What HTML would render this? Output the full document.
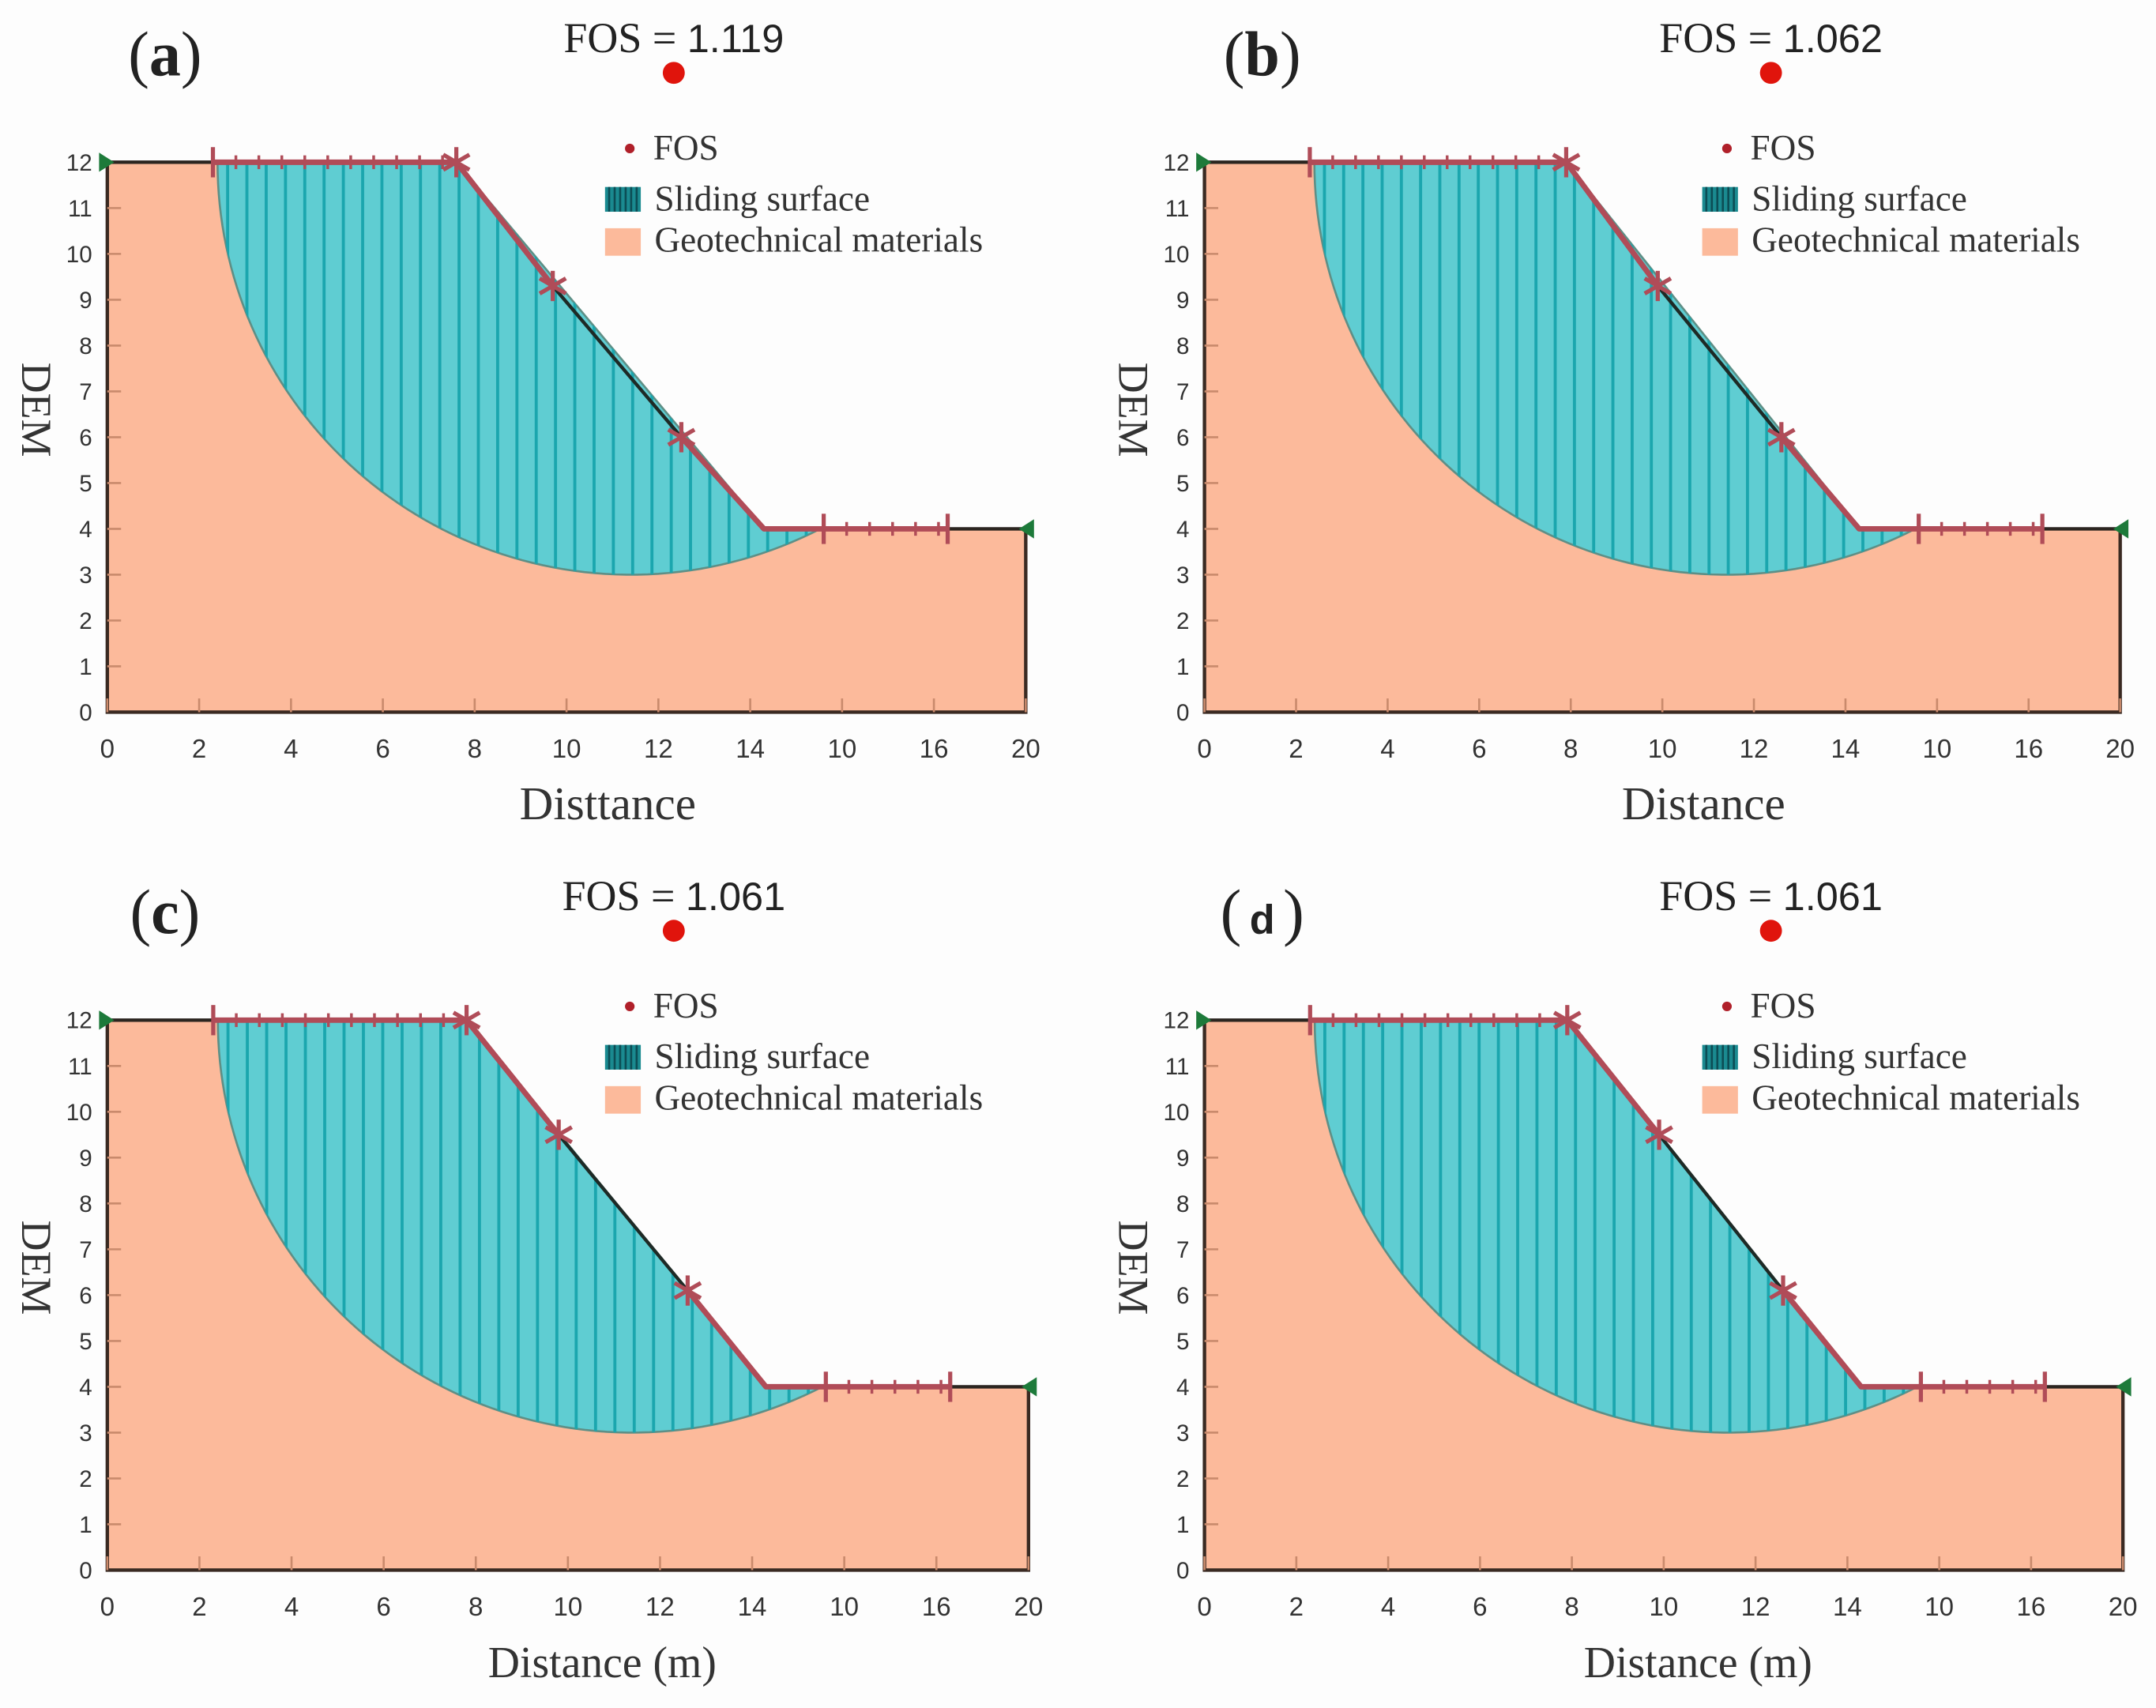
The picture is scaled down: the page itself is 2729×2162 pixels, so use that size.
<!DOCTYPE html>
<html><head><meta charset="utf-8"><style>
html,body{margin:0;padding:0;background:#fdfdfd;}
svg{display:block;}
</style></head><body>
<svg id="fig" width="2729" height="2162" viewBox="0 0 1568 1242.3" xmlns="http://www.w3.org/2000/svg" font-family="Liberation Serif, serif"></svg>
<script>
const panelLabels=['a','b','c','d'];
const fosValues=['1.119','1.062','1.061','1.061'];
const xAxisTitles=['Disttance','Distance','Distance (m)','Distance (m)'];
const slopeTopX=[7.6,7.9,7.8,7.9];
const star1X=[9.7,9.9,9.8,9.9];
const star1Y=[9.3,9.3,9.5,9.5];
const star2X=[12.5,12.6,12.6,12.6];
const star2Y=[6.0,6.0,6.1,6.1];
const xTickVals=[0,2,4,6,8,10,12,14,16,18,20];
const xTickLabels=['0','2','4','6','8','10','12','14','10','16','20'];
const yTickVals=[0,1,2,3,4,5,6,7,8,9,10,11,12];
const slopeToeX=14.3, crestY=12, toeY=4;
const circleCX=11.4, circleCY=12, circleR=9;
const NS='http://www.w3.org/2000/svg';
const svg=document.getElementById('fig');
const SANS='font-family:"Liberation Sans",sans-serif';
function mk(tag,attrs,parent){const e=document.createElementNS(NS,tag);for(const k in attrs)e.setAttribute(k,attrs[k]);(parent||svg).appendChild(e);return e;}
const frames=[{x0:78,x20:746,y0:518,y12:118},{x0:876,x20:1542,y0:518,y12:118},{x0:78,x20:748,y0:1142,y12:742},{x0:876,x20:1544,y0:1142,y12:742}];
frames.forEach((f,i)=>{
  const X=v=>f.x0+(f.x20-f.x0)*v/20;
  const Y=v=>f.y0-(f.y0-f.y12)*v/12;
  const g=mk('g',{});
  
  
  const top=slopeTopX[i];
  const ground=mk('polygon',{points:[[0,0],[0,crestY],[top,crestY],[slopeToeX,toeY],[20,toeY],[20,0]].map(p=>X(p[0])+','+Y(p[1])).join(' '),fill:'#fcba9b',stroke:'none'},g);
  
  
  const arc=[];
  const a0=Math.PI, a1=Math.PI*2-Math.asin((circleCY-toeY)/circleR);
  for(let k=0;k<=80;k++){const a=a0+(a1-a0)*k/80;arc.push([circleCX+circleR*Math.cos(a),circleCY+circleR*Math.sin(a)]);}
  const exitX=arc[arc.length-1][0];
  const slidePts=[[arc[0][0],crestY],[top,crestY],[slopeToeX,toeY],[exitX,toeY]].concat(arc.slice().reverse());
  const clipId='clip'+i;
  const cp=mk('clipPath',{id:clipId},g);
  mk('polygon',{points:slidePts.map(p=>X(p[0])+','+Y(p[1])).join(' ')},cp);
  const slide=mk('polygon',{points:slidePts.map(p=>X(p[0])+','+Y(p[1])).join(' '),fill:'#5fcdd2',stroke:'#5e8f86','stroke-width':1.5},g);
  
  
  const hg=mk('g',{'clip-path':'url(#'+clipId+')'},g);
  for(let x=2.2;x<16;x+=0.42){mk('line',{x1:X(x),x2:X(x),y1:Y(12.2),y2:Y(2.8),stroke:'#1ba6ae','stroke-width':2.2},hg);}
  const ax=mk('path',{d:`M${X(0)},${Y(crestY)} L${X(0)},${Y(0)} L${X(20)},${Y(0)} L${X(20)},${Y(toeY)}`,fill:'none',stroke:'#3a2a22','stroke-width':2.5},g);
  
  
  xTickVals.forEach((v,j)=>{
    mk('line',{x1:X(v),x2:X(v),y1:Y(0),y2:Y(0)-10,stroke:'#c98a6c','stroke-width':1.5},g);
    const t=mk('text',{x:X(v),y:Y(0)+33,'text-anchor':'middle','font-size':19,fill:'#333',style:SANS},g);
    t.textContent=xTickLabels[j];
    
    
  });
  yTickVals.forEach(v=>{
    if(v>0&&v<12)mk('line',{x1:X(0),x2:X(0)+10,y1:Y(v),y2:Y(v),stroke:'#c98a6c','stroke-width':1.5},g);
    const t=mk('text',{x:X(0)-11,y:Y(v)+6,'text-anchor':'end','font-size':17,fill:'#333',style:SANS},g);
    t.textContent=v;
    
    
  });
  mk('line',{x1:X(0),y1:Y(crestY),x2:X(2.3),y2:Y(crestY),stroke:'#2b2520','stroke-width':2.5},g);
  mk('line',{x1:X(star1X[i]),y1:Y(star1Y[i]),x2:X(star2X[i]),y2:Y(star2Y[i]),stroke:'#1e2a26','stroke-width':2.5},g);
  mk('line',{x1:X(18.3),y1:Y(toeY),x2:X(20),y2:Y(toeY),stroke:'#2b2520','stroke-width':2.5},g);
  const red='#b04c58';
  const rl=mk('path',{d:`M${X(2.3)},${Y(crestY)} L${X(top)},${Y(crestY)} L${X(star1X[i])},${Y(star1Y[i])} M${X(star2X[i])},${Y(star2Y[i])} L${X(slopeToeX)},${Y(toeY)} L${X(18.3)},${Y(toeY)}`,fill:'none',stroke:red,'stroke-width':4,'stroke-linejoin':'round'},g);
  
  
  for(let x=2.8;x<top-0.2;x+=0.5)mk('line',{x1:X(x),x2:X(x),y1:Y(crestY)-5,y2:Y(crestY)+5,stroke:red,'stroke-width':2},g);
  for(let x=16.1;x<18.2;x+=0.5)mk('line',{x1:X(x),x2:X(x),y1:Y(toeY)-5,y2:Y(toeY)+5,stroke:red,'stroke-width':2},g);
  [[2.3,crestY],[15.6,toeY],[18.3,toeY]].forEach(p=>mk('line',{x1:X(p[0]),x2:X(p[0]),y1:Y(p[1])-11,y2:Y(p[1])+11,stroke:red,'stroke-width':3},g));
  [[top,crestY],[star1X[i],star1Y[i]],[star2X[i],star2Y[i]]].forEach(p=>{
    const sg=mk('g',{},g);
    
    
    for(let k=0;k<3;k++){const a=k*Math.PI/3+Math.PI/2;mk('line',{x1:X(p[0])-11*Math.cos(a),y1:Y(p[1])-11*Math.sin(a),x2:X(p[0])+11*Math.cos(a),y2:Y(p[1])+11*Math.sin(a),stroke:red,'stroke-width':3},sg);}
  });
  mk('polygon',{points:`${X(0)-6},${Y(crestY)-7} ${X(0)-6},${Y(crestY)+7} ${X(0)+5},${Y(crestY)}`,fill:'#1d7a3a'},g);
  mk('polygon',{points:`${X(20)+6},${Y(toeY)-7} ${X(20)+6},${Y(toeY)+7} ${X(20)-5},${Y(toeY)}`,fill:'#1d7a3a'},g);
  const pl=mk('text',{x:f.x0+42,y:f.y12-63,'text-anchor':'middle','font-size':46,fill:'#222'},g);
  pl.innerHTML='(<tspan font-weight="bold"'+(i==3?' style=\'font-family:"Liberation Sans",sans-serif\' font-size="30"':'')+'>'+(i==3?'\u2009'+panelLabels[i]+'\u2009':panelLabels[i])+'</tspan>)';
  
  
  const ft=mk('text',{x:f.x0+412,y:f.y12-80,'text-anchor':'middle','font-size':31,fill:'#222'},g);
  ft.innerHTML='FOS = <tspan style=\'font-family:"Liberation Sans",sans-serif\' font-size="29">'+fosValues[i]+'</tspan>';
  
  
  const fd=mk('circle',{cx:f.x0+412,cy:f.y12-65,r:8,fill:'#e0140c'},g);
  
  
  const xt=mk('text',{x:(f.x0+f.x20)/2+(i<2?30:25),y:f.y0+78,'text-anchor':'middle','font-size':i<2?34:32,fill:'#333'},g);
  xt.textContent=xAxisTitles[i];
  
  
  const yt=mk('text',{x:0,y:0,'text-anchor':'middle','font-size':31,fill:'#333',transform:`translate(${f.x0-62},${(f.y0+f.y12)/2-20}) rotate(90)`},g);
  yt.textContent='DEM';
  
  
  const lg=mk('g',{},g);
  
  
  const lx=f.x0+362, ly=f.y12;
  mk('circle',{cx:lx+18,cy:ly-10,r:3.5,fill:'#b0202a'},lg);
  mk('text',{x:lx+35,y:ly-2,'font-size':26,fill:'#333'},lg).textContent='FOS';
  mk('rect',{x:lx,y:ly+18,width:26,height:18,fill:'#1a8a90'},lg);
  for(let k=0;k<6;k++)mk('line',{x1:lx+3+k*4,x2:lx+3+k*4,y1:ly+18,y2:ly+36,stroke:'#0c4d55','stroke-width':1.5},lg);
  mk('text',{x:lx+36,y:ly+35,'font-size':26,fill:'#333'},lg).textContent='Sliding surface';
  mk('rect',{x:lx,y:ly+48,width:26,height:20,fill:'#fcba9b'},lg);
  mk('text',{x:lx+36,y:ly+65,'font-size':26,fill:'#333'},lg).textContent='Geotechnical materials';
});
</script>
</body></html>
